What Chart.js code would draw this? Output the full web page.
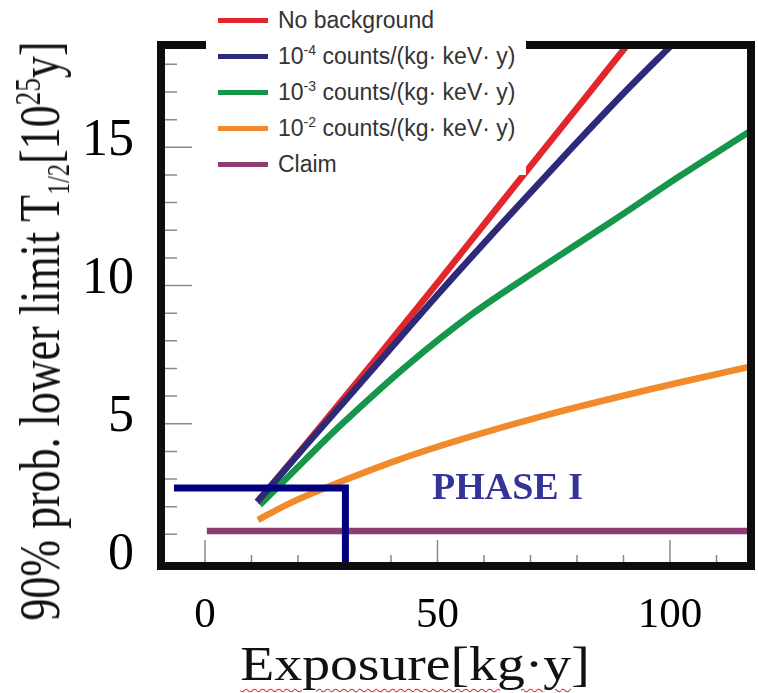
<!DOCTYPE html>
<html lang="en">
<head>
    <meta charset="UTF-8">
    <title>90% prob. lower limit vs exposure</title>
    <script src="https://cdn.jsdelivr.net/npm/chart.js"></script>
    <style>
        html, body { margin: 0; padding: 0; background: #fff; }
        .wrap { position: relative; width: 758px; height: 693px; overflow: hidden; }
        .legend {
            position: absolute; left: 206px; top: 0; width: 320px; height: 175px;
            background: #fff; overflow: hidden;
            font-family: "Liberation Sans", Arial, sans-serif; font-size: 23px; color: #333;
        }
        .legend .row { position: absolute; left: 0; height: 36px; line-height: 36px; white-space: nowrap; }
        .legend .swatch { position: absolute; left: 12px; top: 16px; width: 50px; height: 5px; }
        .legend .label { position: absolute; left: 72px; top: 0; }
        .legend sup { font-size: 14px; position: relative; top: -9px; vertical-align: baseline; }
        .ytitle {
            position: absolute; left: 41px; top: 331px;
            transform: translate(-50%, -50%) rotate(-90deg) scale(1, 1.28);
            font-family: "Liberation Serif", "Times New Roman", serif; font-size: 44px;
            line-height: 1; white-space: nowrap; color: #111;
        }
        .ytitle sub { font-size: 0.55em; position: relative; top: 0.35em; vertical-align: baseline; }
        .ytitle sup { font-size: 0.62em; position: relative; top: -0.55em; vertical-align: baseline; }
        .xtitle {
            position: absolute; left: 415px; top: 640px;
            transform: translate(-50%, 0) scaleX(1.16);
            font-family: "Liberation Serif", "Times New Roman", serif; font-size: 48px;
            line-height: 1; white-space: nowrap; color: #111;
        }
        .xtitle .sp { text-decoration: underline wavy #e03030; text-decoration-thickness: 1px; text-underline-offset: 8px; }
    </style>
</head>
<body>
    <div class="wrap">
        <canvas id="chart"></canvas>
        <div class="legend" id="legend"></div>
        <div class="ytitle">90% prob. lower limit T<sub>1/2</sub>[10<sup>25</sup>y]</div>
        <div class="xtitle"><span class="sp">Exposure[kg·y</span>]</div>
    </div>

    <script>
        // curves (exposure in kg·y, limit in 10^25 y)
        const noBgExposure = [11.4, 21.9, 36.1, 50.5, 61.0, 72.0, 82.0, 89.96, 100];
        const noBgLimit    = [2.2, 4.3, 7.2, 10.2, 12.42, 14.74, 16.84, 18.52, 20.6];

        const bg4Exposure = [11.2, 21.9, 36.2, 51.0, 65.0, 79.0, 90.0, 99.3, 110];
        const bg4Limit    = [2.17, 4.25, 7.0, 9.85, 12.45, 15.0, 16.95, 18.52, 20.3];

        const bg3Exposure = [11.8, 21.5, 29.0, 43.4, 57.7, 72.0, 87.8, 102.2, 117.4];
        const bg3Limit    = [2.06, 3.69, 4.92, 7.1, 9.0, 10.62, 12.35, 13.97, 15.6];

        const bg2Exposure = [11.4, 18.3, 29.0, 43.4, 57.6, 72.0, 95.1, 117.4];
        const bg2Limit    = [1.52, 2.13, 2.89, 3.8, 4.56, 5.25, 6.22, 7.07];

        const claimExposure = [0.4, 117.4];
        const claimLimit    = [1.12, 1.12];

        const phaseExposure = [-6.67, 30.2, 30.2];
        const phaseLimit    = [2.68, 2.68, -0.145];
        const phaseText = 'PHASE I';
        const phaseTextAt = [65.05, 2.62];

        const seriesNames = [
            'No background',
            '10<sup>-4</sup> counts/(kg· keV· y)',
            '10<sup>-3</sup> counts/(kg· keV· y)',
            '10<sup>-2</sup> counts/(kg· keV· y)',
            'Claim'
        ];
        const seriesColors = ['#e2262c', '#2d2a7a', '#15964a', '#f08a2a', '#8d3d72'];

        const xMin = -9.46, xMax = 117.42;
        const yMin = -0.145, yMax = 18.7;

        const toPoints = (xs, ys) => xs.map((x, i) => ({ x: x, y: ys[i] }));
        const plain = s => s.replace(/<\/?sup>/g, '');

        // html legend (needs superscripts)
        const legendDiv = document.getElementById('legend');
        seriesNames.forEach((name, i) => {
            legendDiv.insertAdjacentHTML('beforeend',
                `<div class="row" style="top:${2 + i * 36}px">
                    <span class="swatch" style="background:${seriesColors[i]}"></span>
                    <span class="label">${name}</span>
                 </div>`);
        });

        const innerTicks = {
            id: 'innerTicks',
            beforeDatasetsDraw(chart) {
                const { ctx, chartArea: a, scales: { x, y } } = chart;
                ctx.save();
                ctx.strokeStyle = '#8a8a8a';
                ctx.lineWidth = 1.5;
                ctx.beginPath();
                x.ticks.forEach(t => {
                    const px = x.getPixelForValue(t.value);
                    const len = t.value % 50 === 0 ? 26 : 11;
                    ctx.moveTo(px, a.bottom);
                    ctx.lineTo(px, a.bottom - len);
                });
                y.ticks.forEach(t => {
                    if (t.value === 0) return;
                    const py = y.getPixelForValue(t.value);
                    const len = t.value % 5 === 0 ? 31 : 16;
                    ctx.moveTo(a.left, py);
                    ctx.lineTo(a.left + len, py);
                });
                ctx.stroke();
                ctx.restore();
            }
        };

        const frameAndLabel = {
            id: 'frameAndLabel',
            afterDatasetsDraw(chart) {
                const { ctx, chartArea: a, scales: { x, y } } = chart;
                ctx.save();
                ctx.strokeStyle = '#0d0d0d';
                ctx.lineWidth = 8;
                ctx.strokeRect(a.left, a.top, a.right - a.left, a.bottom - a.top);
                ctx.font = 'bold 38px "Liberation Serif", "Times New Roman", serif';
                ctx.fillStyle = '#333399';
                ctx.textAlign = 'center';
                ctx.textBaseline = 'middle';
                ctx.fillText(phaseText, x.getPixelForValue(phaseTextAt[0]), y.getPixelForValue(phaseTextAt[1]));
                ctx.restore();
            }
        };

        const curve = (label, xs, ys, color) => ({
            label: label,
            data: toPoints(xs, ys),
            borderColor: color,
            borderWidth: 6.5,
            showLine: true,
            pointRadius: 0,
            cubicInterpolationMode: 'monotone',
            clip: 0
        });

        const serif = '"Liberation Serif", "Times New Roman", serif';

        new Chart(document.getElementById('chart'), {
            type: 'scatter',
            data: {
                datasets: [
                    {
                        label: 'Phase I',
                        data: toPoints(phaseExposure, phaseLimit),
                        borderColor: '#00007f',
                        borderWidth: 7,
                        showLine: true,
                        pointRadius: 0,
                        tension: 0,
                        borderJoinStyle: 'miter',
                        borderCapStyle: 'butt',
                        clip: 0
                    },
                    curve(plain(seriesNames[1]), bg4Exposure, bg4Limit, seriesColors[1]),
                    curve(seriesNames[0], noBgExposure, noBgLimit, seriesColors[0]),
                    curve(plain(seriesNames[2]), bg3Exposure, bg3Limit, seriesColors[2]),
                    curve(plain(seriesNames[3]), bg2Exposure, bg2Limit, seriesColors[3]),
                    curve(seriesNames[4], claimExposure, claimLimit, seriesColors[4])
                ]
            },
            options: {
                responsive: true,
                maintainAspectRatio: false,
                animation: false,
                events: [],
                layout: { padding: { left: 0, right: 7, top: 45, bottom: 0 } },
                plugins: {
                    legend: { display: false },
                    tooltip: { enabled: false }
                },
                scales: {
                    x: {
                        type: 'linear',
                        min: xMin,
                        max: xMax,
                        afterFit: s => { s.height = 127; },
                        grid: { display: false, drawTicks: false },
                        border: { display: false },
                        ticks: {
                            stepSize: 10,
                            autoSkip: false,
                            includeBounds: false,
                            maxRotation: 0,
                            minRotation: 0,
                            padding: 24,
                            color: '#000',
                            font: { family: serif, size: 43 },
                            callback: v => (v % 50 === 0 ? String(v) : '')
                        }
                    },
                    y: {
                        type: 'linear',
                        min: yMin,
                        max: yMax,
                        afterFit: s => { s.width = 161; },
                        grid: { display: false, drawTicks: false },
                        border: { display: false },
                        ticks: {
                            stepSize: 1,
                            autoSkip: false,
                            includeBounds: false,
                            padding: 27,
                            color: '#000',
                            // two-line label with an empty second line lifts the digits a bit
                            font: { family: serif, size: 52, lineHeight: 0.24 },
                            callback: v => (v % 5 === 0 ? [String(v), ''] : '')
                        }
                    }
                }
            },
            plugins: [innerTicks, frameAndLabel]
        });
    </script>
</body>
</html>
